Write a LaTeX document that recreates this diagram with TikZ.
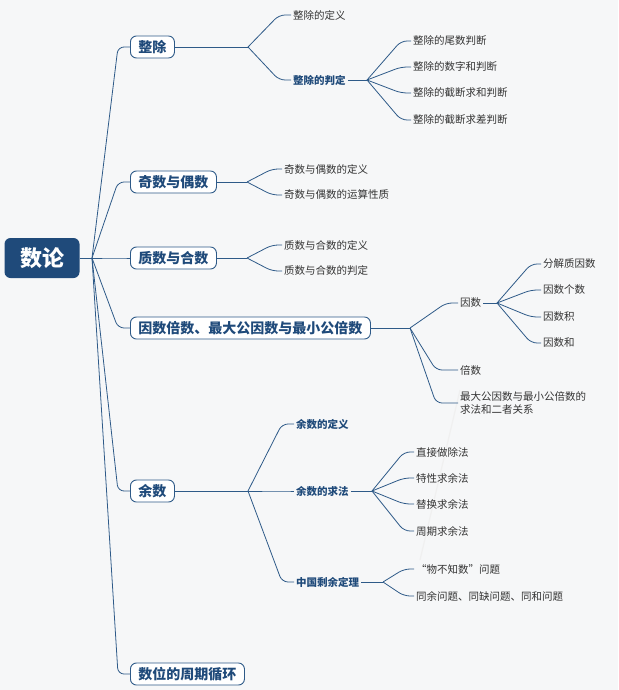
\documentclass[tikz,border=0pt]{standalone}
\usepackage{fontspec}
\usetikzlibrary{calc}
\setmainfont{Noto Sans CJK SC}
\begin{document}
\begin{tikzpicture}[x=1pt,y=-1pt,
  link/.style={draw=lk,line width=0.8pt,rounded corners=6pt},
  rootbox/.style={fill=dk,rounded corners=6pt,text=white,font=\fontsize{22}{24}\selectfont\bfseries,minimum width=75,minimum height=40,inner sep=0},
  lvone/.style={draw=lk,line width=0.9pt,rounded corners=6pt,text=dk,fill=white,font=\fontsize{14}{16}\selectfont\bfseries,minimum height=22,inner xsep=8pt,anchor=west},
  leaf/.style={font=\fontsize{10.5}{13}\selectfont,text=tx,anchor=west,inner sep=2pt,align=left},
  bleaf/.style={leaf,font=\fontsize{10.5}{13}\selectfont\bfseries,text=dk}]
\definecolor{lk}{HTML}{2E5A88}
\definecolor{dk}{HTML}{1F4A7A}
\definecolor{tx}{HTML}{333333}
\definecolor{bg}{HTML}{F6F7F8}
\fill[bg] (0,0) rectangle (618,690);
\useasboundingbox (0,0) rectangle (618,690);
\draw[white!85!gray,line width=1.2pt] (690,-30) arc (0:-80:380);
\draw[white!88!gray,line width=1.2pt] (420,560) -- (460,390);

\node[rootbox] (root) at (42,258) {数论};
\coordinate (rj) at (92,258);
\draw[link] (root.east) -- (rj);

\node[lvone] (a1) at (130,47) {整除};
\node[lvone] (a2) at (130,182) {奇数与偶数};
\node[lvone] (a3) at (130,258) {质数与合数};
\node[lvone] (a4) at (130,328) {因数倍数、最大公因数与最小公倍数};
\node[lvone] (a5) at (130,491) {余数};
\node[lvone] (a6) at (130,674) {数位的周期循环};
\foreach \n in {a1,a2,a3,a4,a5,a6}{
  \draw[link] (rj) -- ($(\n.west)+(-12,0)$) -- (\n.west);}

% 整除
\coordinate (j1) at (248,47);
\draw[link] (a1.east) -- (j1);
\node[leaf] (b11) at (291,15) {整除的定义};
\node[bleaf] (b12) at (291,80) {整除的判定};
\foreach \n in {b11,b12}{\draw[link] (j1) -- ($(\n.west)+(-12,0)$) -- (\n.west);}
\coordinate (j12) at (367,80);
\draw[link] (b12.east) -- (j12);
\node[leaf] (c1) at (411,41) {整除的尾数判断};
\node[leaf] (c2) at (411,67) {整除的数字和判断};
\node[leaf] (c3) at (411,93) {整除的截断求和判断};
\node[leaf] (c4) at (411,120) {整除的截断求差判断};
\foreach \n in {c1,c2,c3,c4}{\draw[link] (j12) -- ($(\n.west)+(-10,0)$) -- (\n.west);}

% 奇数与偶数
\coordinate (j2) at (247,182);
\draw[link] (a2.east) -- (j2);
\node[leaf] (b21) at (282,169) {奇数与偶数的定义};
\node[leaf] (b22) at (282,195) {奇数与偶数的运算性质};
\foreach \n in {b21,b22}{\draw[link] (j2) -- ($(\n.west)+(-10,0)$) -- (\n.west);}

% 质数与合数
\coordinate (j3) at (247,258);
\draw[link] (a3.east) -- (j3);
\node[leaf] (b31) at (282,245) {质数与合数的定义};
\node[leaf] (b32) at (282,271) {质数与合数的判定};
\foreach \n in {b31,b32}{\draw[link] (j3) -- ($(\n.west)+(-10,0)$) -- (\n.west);}

% 因数倍数
\coordinate (j4) at (410,328);
\draw[link] (a4.east) -- (j4);
\node[leaf] (b41) at (458,303) {因数};
\node[leaf] (b42) at (458,370) {倍数};
\node[leaf] (b43) at (458,403) {最大公因数与最小公倍数的\\求法和二者关系};
\draw[link] (j4) -- ($(b41.west)+(-12,0)$) -- (b41.west);
\draw[link] (j4) -- ($(b42.west)+(-22,0)$) -- (b42.west);
\draw[link] (j4) -- ($(b43.west)+(-22,0)$) -- (b43.west);
\coordinate (j41) at (497,303);
\draw[link] (b41.east) -- (j41);
\node[leaf] (d1) at (541,264) {分解质因数};
\node[leaf] (d2) at (541,290) {因数个数};
\node[leaf] (d3) at (541,317) {因数积};
\node[leaf] (d4) at (541,343) {因数和};
\foreach \n in {d1,d2,d3,d4}{\draw[link] (j41) -- ($(\n.west)+(-10,0)$) -- (\n.west);}

% 余数
\coordinate (j5) at (248,491);
\draw[link] (a5.east) -- (j5);
\node[bleaf] (b51) at (294,424) {余数的定义};
\node[bleaf] (b52) at (294,491) {余数的求法};
\node[bleaf] (b53) at (294,582) {中国剩余定理};
\foreach \n in {b51,b52,b53}{\draw[link] (j5) -- ($(\n.west)+(-12,0)$) -- (\n.west);}
\coordinate (j52) at (372,491);
\draw[link] (b52.east) -- (j52);
\node[leaf] (e1) at (414,452) {直接做除法};
\node[leaf] (e2) at (414,478) {特性求余法};
\node[leaf] (e3) at (414,504) {替换求余法};
\node[leaf] (e4) at (414,531) {周期求余法};
\foreach \n in {e1,e2,e3,e4}{\draw[link] (j52) -- ($(\n.west)+(-10,0)$) -- (\n.west);}
\coordinate (j53) at (383,582);
\draw[link] (b53.east) -- (j53);
\node[leaf] (f1) at (414,569) {“物不知数”问题};
\node[leaf] (f2) at (414,596) {同余问题、同缺问题、同和问题};
\foreach \n in {f1,f2}{\draw[link] (j53) -- ($(\n.west)+(-10,0)$) -- (\n.west);}
\end{tikzpicture}
\end{document}
